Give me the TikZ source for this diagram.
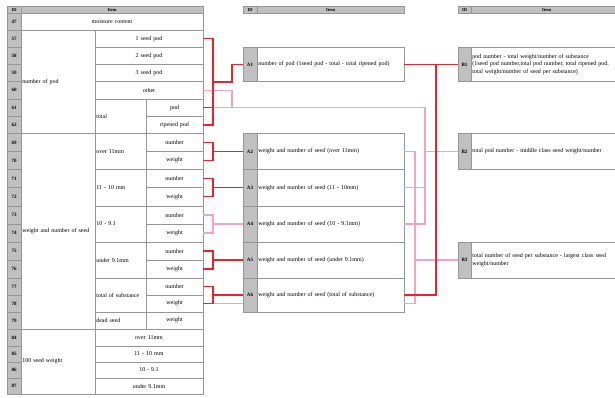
\documentclass[tikz,border=0pt]{standalone}
\usepackage{fontspec}
\setmainfont{Liberation Serif}
\usetikzlibrary{calc}
\definecolor{rsred}{RGB}{236,34,44}
\definecolor{rspink}{RGB}{242,162,204}
\definecolor{rsgrid}{RGB}{150,150,150}
\definecolor{rsidfill}{RGB}{192,192,192}
\newcommand\rsfont{\fontsize{6}{7.8}\selectfont}
\newcommand\Cell[7]{%
  \pgfmathsetmacro\rsW{#4-(#2)}%
  \pgfmathsetmacro\rsH{#5-(#3)}%
  \pgfmathsetmacro\rsT{#4-(#2)-2.6}%
  \node[cell,#6,minimum width=\rsW pt,minimum height=\rsH pt,text width=\rsT pt] (#1) at ({((#2)+(#4))/2},{((#3)+(#5))/2}) {#7};}
\tikzset{
  cell/.style={rectangle, draw=rsgrid, line width=0.9pt, fill=white, inner xsep=1.2pt, inner ysep=0.5pt, font=\rsfont, align=center, outer sep=0pt},
  lft/.style={align=left},
  idc/.style={fill=rsidfill, font=\fontsize{5}{6}\selectfont\bfseries},
  hdr/.style={fill=rsidfill, font=\fontsize{4.5}{5}\selectfont\bfseries, inner ysep=0pt},
  rd/.style={draw=rsred, line width=1.4pt},
  pk/.style={draw=rspink, line width=1.1pt}
}
\begin{document}
\begin{tikzpicture}[x=1pt,y=-1pt]
\useasboundingbox (0,0) rectangle (615,398);
\clip (0,0) rectangle (615,398);
\fill[white] (0,0) rectangle (615,398);
% ---------- left table ----------
\Cell{hLa}{7}{6}{21}{13.3}{hdr}{ID}
\Cell{hLb}{21}{6}{203}{13.3}{hdr}{Item}
\foreach \id/\ya/\yb in {47/13.3/30, 57/30/47.3, 58/47.3/64.5, 59/64.5/81.7, 60/81.7/99, 61/99/116.5, 62/116.5/133.5, 69/133.5/151.5, 70/151.5/169.3, 71/169.3/187.5, 72/187.5/206, 73/206/224, 74/224/242, 75/242/260, 76/260/278, 77/278/295, 78/295/312, 79/312/329, 84/329/346, 85/346/362, 86/362/378, 87/378/394}
  {\Cell{i\id}{7}{\ya}{21}{\yb}{idc}{\id}}
\Cell{c47}{21}{13.3}{203}{30}{}{moisture content}
\Cell{n1}{21}{30}{95}{133.5}{lft}{number of pod}
\Cell{c57}{95}{30}{203}{47.3}{}{1 seed pod}
\Cell{c58}{95}{47.3}{203}{64.5}{}{2 seed pod}
\Cell{c59}{95}{64.5}{203}{81.7}{}{3 seed pod}
\Cell{c60}{95}{81.7}{203}{99}{}{other}
\Cell{tot}{95}{99}{146}{133.5}{lft}{total}
\Cell{c61}{146}{99}{203}{116.5}{}{pod}
\Cell{c62}{146}{116.5}{203}{133.5}{}{ripened pod}
\Cell{w1}{21}{133.5}{95}{329}{lft}{weight and number of seed}
\Cell{s1}{95}{133.5}{146}{169.3}{lft}{over 11mm}
\Cell{s2}{95}{169.3}{146}{206}{lft}{11 - 10 mm}
\Cell{s3}{95}{206}{146}{242}{lft}{10 - 9.1}
\Cell{s4}{95}{242}{146}{278}{lft}{under 9.1mm}
\Cell{s5}{95}{278}{146}{312}{lft}{total of substance}
\Cell{s6}{95}{312}{146}{329}{lft}{dead seed}
\foreach \id/\ya/\yb/\tx in {69/133.5/151.5/number, 70/151.5/169.3/weight, 71/169.3/187.5/number, 72/187.5/206/weight, 73/206/224/number, 74/224/242/weight, 75/242/260/number, 76/260/278/weight, 77/278/295/number, 78/295/312/weight, 79/312/329/weight}
  {\Cell{c\id}{146}{\ya}{203}{\yb}{}{\tx}}
\Cell{h1}{21}{329}{95}{394}{lft}{100 seed weight}
\Cell{c84}{95}{329}{203}{346}{}{over 11mm}
\Cell{c85}{95}{346}{203}{362}{}{11 - 10 mm}
\Cell{c86}{95}{362}{203}{378}{}{10 - 9.1}
\Cell{c87}{95}{378}{203}{394}{}{under 9.1mm}
% ---------- middle table ----------
\Cell{hMa}{243}{6}{257}{13.3}{hdr}{ID}
\Cell{hMb}{257}{6}{404}{13.3}{hdr}{Item}
\Cell{A1id}{243}{47.3}{257}{81.7}{idc}{A1}
\Cell{A1t}{257}{47.3}{404}{81.7}{lft}{number of pod (1seed pod - total - total ripened pod)}
\Cell{A2id}{243}{133.5}{257}{169.3}{idc}{A2}
\Cell{A2t}{257}{133.5}{404}{169.3}{lft}{weight and number of seed (over 11mm)}
\Cell{A3id}{243}{169.3}{257}{206}{idc}{A3}
\Cell{A3t}{257}{169.3}{404}{206}{lft}{weight and number of seed (11 - 10mm)}
\Cell{A4id}{243}{206}{257}{242}{idc}{A4}
\Cell{A4t}{257}{206}{404}{242}{lft}{weight and number of seed (10 - 9.1mm)}
\Cell{A5id}{243}{242}{257}{278}{idc}{A5}
\Cell{A5t}{257}{242}{404}{278}{lft}{weight and number of seed (under 9.1mm)}
\Cell{A6id}{243}{278}{257}{312}{idc}{A6}
\Cell{A6t}{257}{278}{404}{312}{lft}{weight and number of seed (total of substance)}
% ---------- right table ----------
\Cell{hRa}{458}{6}{471}{13.3}{hdr}{ID}
\Cell{hRb}{471}{6}{622}{13.3}{hdr}{Item}
\Cell{B1id}{458}{47.3}{471}{81.7}{idc}{B1}
\Cell{B1t}{471}{47.3}{622}{81.7}{lft}{pod number - total weight/number of substance\\(1seed pod number,total pod number, total ripened pod,\\total weight/number of seed per substance)}
\Cell{B2id}{458}{133.5}{471}{169.3}{idc}{B2}
\Cell{B2t}{471}{133.5}{622}{169.3}{lft}{total pod number - middle class seed weight/number}
\Cell{B3id}{458}{242}{471}{278}{idc}{B3}
\Cell{B3t}{471}{242}{622}{278}{lft}{total number of seed per substance - largest class seed\\weight/number}
% ---------- connector columns ----------
\coordinate (bx) at (213,0);
\coordinate (jx) at (232,0);
\coordinate (p1) at (415,0);
\coordinate (p2) at (425,0);
\coordinate (r2) at (436,0);
\coordinate (A6p) at (A6t.east |- c78.east);
% ---------- pink connectors ----------
\draw[pk] (c60.east) -| (jx |- c61.east);
\draw[pk] (c61.east) -| (p2 |- A4t.east) -- (A4t.east);
\draw[pk] (A3t.east) -- (p2 |- A3t.east);
\draw[pk] (B2id.west) -- (p2 |- B2id.west);
\draw[pk] (A2t.east) -| (p1 |- A6p) -- (A6p);
\draw[pk] (B3id.west) -- (p1 |- B3id.west);
\draw[pk] (c73.east) -| (bx |- c74.east) -- (c74.east);
\draw[pk] (A4id.west) -- (bx |- A4id.west);
\draw[pk] (c78.east) -- (A6id.west |- c78.east);
% ---------- red connectors ----------
\draw[rd] (c57.east) -| (bx |- c62.east) -- (c62.east);
\draw[rd] (c61.east) -- (bx |- c61.east);
\coordinate (j1) at ($(bx |- c57.east)!0.5!(bx |- c62.east)$);
\draw[rd] (j1) -| (jx |- A1id.west) -- (A1id.west);
\draw[rd] (c69.east) -| (bx |- c70.east) -- (c70.east);
\draw[rd] (A2id.west) -- (bx |- A2id.west);
\draw[rd] (c71.east) -| (bx |- c72.east) -- (c72.east);
\draw[rd] (A3id.west) -- (bx |- A3id.west);
\draw[rd] (c75.east) -| (bx |- c76.east) -- (c76.east);
\draw[rd] (A5id.west) -- (bx |- A5id.west);
\draw[rd] (c77.east) -| (bx |- c78.east) -- (c78.east);
\draw[rd] (A6id.west) -- (bx |- A6id.west);
\draw[rd] (A1t.east) -- (B1id.west);
\draw[rd] (A6t.east) -| (r2 |- A1t.east);
\end{tikzpicture}
\end{document}
